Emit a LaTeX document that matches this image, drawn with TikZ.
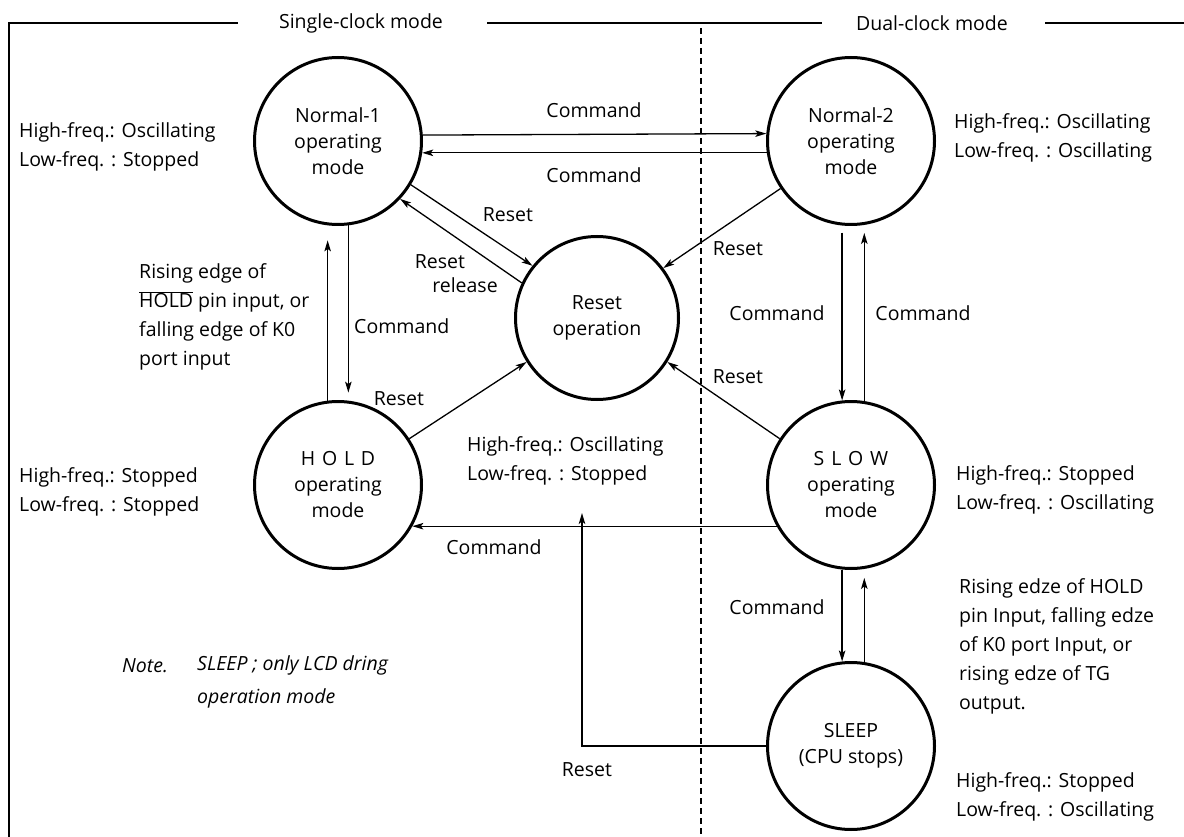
\documentclass[tikz,border=0pt]{standalone}
\usepackage{fontspec}
\setmainfont{Open Sans}
\usetikzlibrary{arrows.meta}
\begin{document}
\begin{tikzpicture}[x=1pt,y=-1pt,
  every node/.style={font=\fontsize{19.5}{26}\selectfont, inner sep=0pt},
  state/.style={circle, draw, line width=3pt, minimum size=167pt, align=center},
  conn/.style={line width=1.3pt, -{Stealth[length=11pt,width=6.5pt,inset=2.5pt]}},
  ann/.style={align=left, anchor=west, font=\fontsize{19.5}{29}\selectfont},
  noteann/.style={align=left, anchor=west, font=\fontsize{19.5}{33}\selectfont\itshape},
  frame/.style={line width=1.8pt}]
\useasboundingbox (0,0) rectangle (1184,837);

% frame and mode separators
\draw[frame] (9,837) -- (9,23) -- (238,23);
\draw[frame] (487,23) -- (822,23);
\draw[frame] (1045,23) -- (1184,23);
\draw[line width=1.3pt, dash pattern=on 6pt off 4pt] (701,28) -- (701,837);
\node (t1) at (361,23) {Single-clock mode};
\node (t2) at (932,23) {Dual-clock mode};

% states
\node[state] (n1) at (338,141) {Normal-1\\operating\\mode};
\node[state] (n2) at (851,141) {Normal-2\\operating\\mode};
\node[state, minimum size=163pt] (rs) at (597,318) {Reset\\operation};
\node[state] (hold) at (338,485) {H\hspace{.35em}O\hspace{.35em}L\hspace{.35em}D\\operating\\mode};
\node[state] (slow) at (851,485) {S\hspace{.35em}L\hspace{.35em}O\hspace{.35em}W\\operating\\mode};
\node[state] (sleep) at (851,746) {SLEEP\\(CPU stops)};

% connectors
\draw[conn] (n1.4.8) -- (n2.175.2);
\draw[conn] (n2.188.2) -- (n1.-8.2);
\draw[conn] (n1.-31.5) -- (rs.141);
\draw[conn] (rs.155) -- (n1.-43.3);
\draw[conn] (hold.33) -- (rs.212);
\draw[conn] (n2.214.7) -- (rs.37);
\draw[conn] (slow.147.2) -- (rs.-32.7);
\draw[conn, shorten >=8pt] (n1.-83.8) -- (hold.83.8);
\draw[conn, shorten >=15pt] (hold.97.5) -- (n1.-97.5);
\draw[conn, shorten <=7pt] (n2.-96.8) -- (slow.96.8);
\draw[conn, shorten >=8pt] (slow.81.1) -- (n2.-81.1);
\draw[conn] (slow.209.2) -- (hold.-29.2);
\draw[conn] (slow.-96.8) -- (sleep.96.8);
\draw[conn, shorten >=9pt] (sleep.81.1) -- (slow.-81.1);
\coordinate (rtip) at (582,513);
\draw[conn] (sleep.west) -| (rtip);

% connector labels
\node (c1) at (594,110) {Command};
\node (c2) at (594,175) {Command};
\node (r1) at (508,215) {Reset};
\node (r2) at (440,262) {Reset};
\node (r3) at (465,285) {release};
\node (r4) at (399,399) {Reset};
\node (r5) at (738,249) {Reset};
\node (r6) at (738,377) {Reset};
\node[anchor=west] (c3) at (354,326) {Command};
\node (c4) at (777,313) {Command};
\node (c5) at (923,313) {Command};
\node (c6) at (494,547) {Command};
\node (c7) at (777,607) {Command};
\node (r7) at (587,770) {Reset};

% annotations
\node[ann] (a1) at (19,147) {High-freq.: Oscillating\\Low-freq. : Stopped};
\node[ann] (a2) at (954,138) {High-freq.: Oscillating\\Low-freq. : Oscillating};
\node[ann] (a3) at (467,461) {High-freq.: Oscillating\\Low-freq. : Stopped};
\node[ann] (a4) at (19,492) {High-freq.: Stopped\\Low-freq. : Stopped};
\node[ann] (a5) at (956,490) {High-freq.: Stopped\\Low-freq. : Oscillating};
\node[ann] (a6) at (956,797) {High-freq.: Stopped\\Low-freq. : Oscillating};
\node[ann] (a7) at (959,646) {Rising edze of HOLD\\pin Input, falling edze\\of K0 port Input, or\\rising edze of TG\\output.};
\node[ann] (a8) at (139,317) {Rising edge of\\$\overline{\mbox{HOLD}}$ pin input, or\\falling edge of K0\\port input};
\node[noteann] (nt1) at (122,666) {Note.};
\node[noteann] (nt2) at (197,682) {SLEEP ; only LCD dring\\operation mode};
\end{tikzpicture}
\end{document}
